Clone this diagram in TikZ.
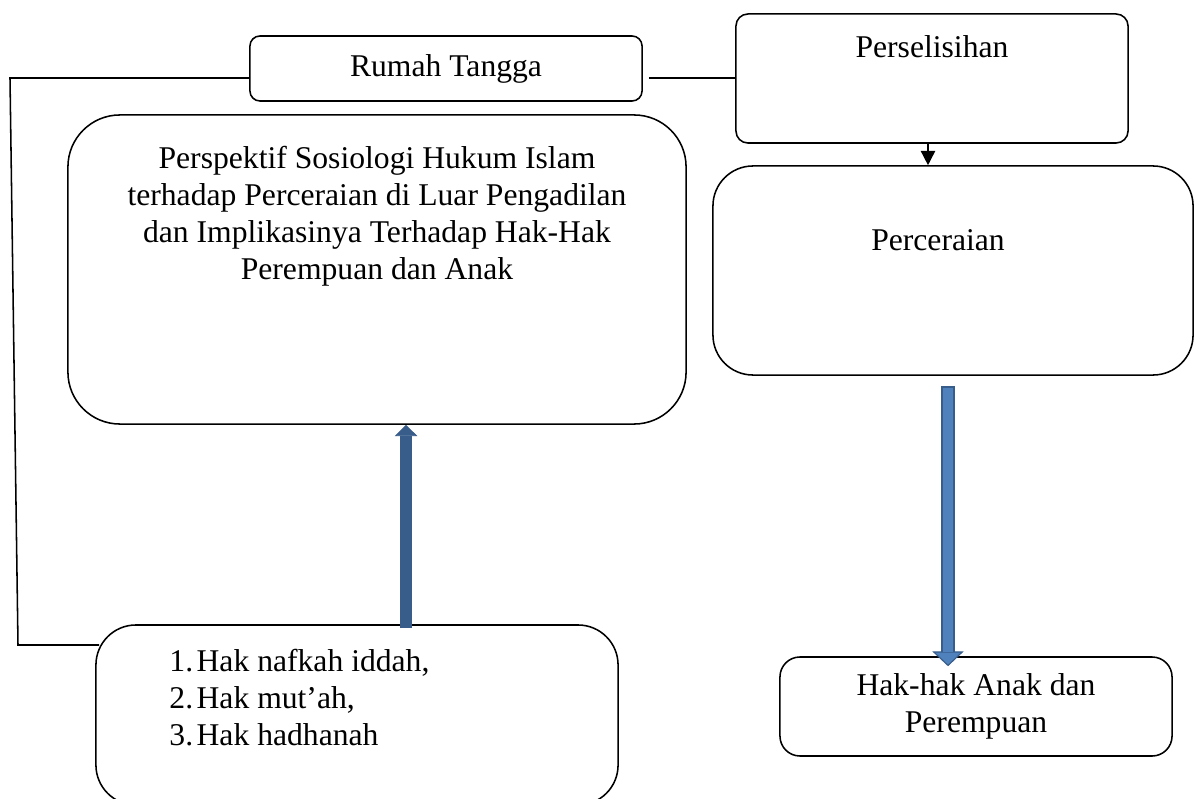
\documentclass[tikz,border=0pt]{standalone}
\usepackage{fontspec}
\setmainfont{Liberation Serif}
\usetikzlibrary{positioning,arrows.meta}
\definecolor{arrowfill}{HTML}{4F81BD}
\definecolor{arrowline}{HTML}{385D8A}
\tikzstyle{rb}=[%
      rectangle, draw=black, line width=1.1pt, fill=white,
      align=center, inner sep=0pt
]
\tikzstyle{tx}=[%
      inner sep=0pt, align=center
]

\begin{document}
\begin{tikzpicture}[x=0.025cm, y=-0.025cm,
    font=\fontsize{22.5}{26.3}\selectfont,
    >={Triangle[length=0.36cm,width=0.36cm]},
    fat/.style={%
      line width=0.35cm, draw=arrowline,
      -{Triangle[length=0.37cm,width=0.78cm,fill=arrowfill,line width=0.8pt]}
    },
    slim/.style={%
      line width=0.28cm, draw=arrowline,
      -{Triangle[length=0.28cm,width=0.56cm,fill=arrowline,line width=0.5pt]}
    },
]
    \useasboundingbox (0,0) rectangle (1200,799);

    \node[rb, rounded corners=0.25cm, minimum width=9.8cm, minimum height=1.625cm]
          (rumah) at (446,68.5) {Rumah Tangga};
    \node[rb, rounded corners=0.3cm, minimum width=9.8cm, minimum height=3.225cm]
          (selisih) at (932,78.5) {};
    \node[rb, rounded corners=1.3cm, minimum width=15.45cm, minimum height=7.725cm]
          (persp) at (377,269.5) {};
    \node[rb, rounded corners=1.0cm, minimum width=12cm, minimum height=5.225cm]
          (cerai) at (953,270.5) {};
    \node[rb, rounded corners=1.0cm, minimum width=13.05cm, minimum height=4.5cm]
          (hak) at (357,715) {};
    \node[rb, rounded corners=0.5cm, minimum width=9.8cm, minimum height=2.475cm]
          (anak) at (976,706.5) {Hak-hak Anak dan\\Perempuan};

    % texts near the top of the boxes
    \node[tx] (tselisih) [below=0.55cm of selisih.north] {Perselisihan};
    \node[tx] (tpersp)   [below=0.8cm of persp.north]
          {Perspektif Sosiologi Hukum Islam\\
           terhadap Perceraian di Luar Pengadilan\\
           dan Implikasinya Terhadap Hak-Hak\\
           Perempuan dan Anak};
    \node[tx] (tcerai)   [below=1.6cm of cerai.north, xshift=-0.375cm] {Perceraian};
    \node[tx, align=left] (thak) [below right=0.62cm and 1.85cm of hak.north west]
          {\makebox[0.68cm][l]{1.}Hak nafkah iddah,\\
           \makebox[0.68cm][l]{2.}Hak mut’ah,\\
           \makebox[0.68cm][l]{3.}Hak hadhanah};

    % connectors
    \coordinate (kiri)  at (10,78);
    \coordinate (bawah) at (18,645);
    \draw[line width=1.1pt] (rumah.west |- kiri) -- (kiri) -- (bawah) -- ([xshift=0.1cm]hak.west |- bawah);
    \draw[line width=1.1pt] ([xshift=0.15cm]rumah.east |- kiri) -- (selisih.west |- kiri);
    \draw[line width=1.1pt, ->] ([xshift=-0.1cm]selisih.south) -- ([xshift=-0.1cm]selisih.south |- cerai.north);

    \coordinate (pa) at ([xshift=-0.125cm, yshift=-0.25cm]cerai.south);
    \draw[fat] (pa) -- ([yshift=-0.25cm]pa |- anak.north);
    \draw[line width=0.24cm, arrowfill] ([yshift=-0.05cm]pa) -- ([yshift=0.1cm]pa |- anak.north);

    \coordinate (pb) at ([xshift=1.225cm, yshift=-0.1cm]hak.north);
    \draw[slim] (pb) -- (pb |- persp.south);
\end{tikzpicture}
\end{document}
